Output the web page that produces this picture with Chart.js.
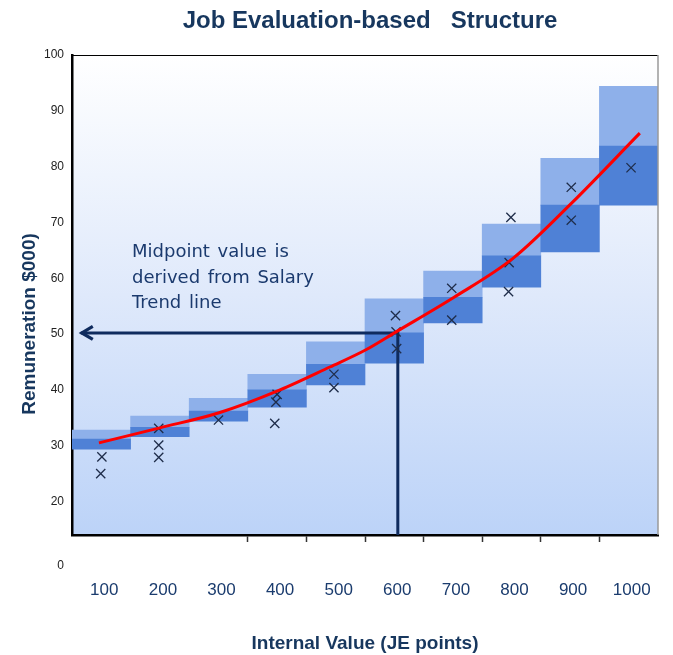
<!DOCTYPE html>
<html>
<head>
<meta charset="utf-8">
<title>Job Evaluation-based Structure</title>
<script src="https://cdn.jsdelivr.net/npm/chart.js@4.4.1/dist/chart.umd.min.js"></script>
<style>
  html, body { margin: 0; padding: 0; background: #fff; }
  #wrap { width: 673px; height: 655px; }
</style>
</head>
<body>
<div id="wrap"><canvas id="chart" width="673" height="655"></canvas></div>
<script>
// grades on the JE scale
const grades = ["100", "200", "300", "400", "500", "600", "700", "800", "900", "1000"];

// salary ranges per grade ($000)
const rangeMin = [29.4, 31.6, 34.4, 36.9, 40.9, 44.8, 52.0, 58.4, 64.7, 73.1];
const rangeMid = [31.2, 33.3, 36.2, 40.0, 44.6, 50.2, 56.6, 64.0, 73.1, 83.7];
const rangeMax = [32.8, 35.3, 38.5, 42.8, 48.6, 56.3, 61.3, 69.7, 81.5, 94.4];

// individual jobs (the X marks)
const jobPoints = [101, 99, 198, 198, 198, 300, 400, 398, 396, 497, 497, 602, 603, 604, 698, 698, 799, 796, 795, 902, 902, 1004];
const jobPay = [28.0, 25.0, 33.1, 30.1, 27.9, 34.6, 39.2, 37.8, 34.0, 42.8, 40.4, 53.3, 50.4, 47.4, 58.2, 52.5, 70.9, 62.8, 57.6, 76.3, 70.4, 79.8];

// salary trend line
const trendPoints = [96, 200, 301, 405, 490, 550, 603, 702, 803, 903, 1019];
const trendPay = [30.5, 33.2, 35.9, 40.0, 44.1, 47.1, 50.4, 56.6, 63.6, 73.5, 86.0];

// midpoint read-off arrow
const arrowPoints = [606, 606, 65];
const arrowPay = [14, 50.2, 50.2];

const yTicks = [20, 30, 40, 50, 60, 70, 80, 90, 100];
const yFloorLabel = "0";
const noteLines = ["Midpoint value is", "derived from Salary", "Trend line"];

const NAVY = "#17375e";
const SANS = '"Liberation Sans", Arial, sans-serif';

const backdrop = {
  id: "backdrop",
  beforeDraw(chart) {
    const { ctx, chartArea: a } = chart;
    const g = ctx.createLinearGradient(0, a.top, 0, a.bottom);
    g.addColorStop(0, "#ffffff");
    g.addColorStop(0.5, "#dfe9fb");
    g.addColorStop(1, "#bcd3f8");
    ctx.save();
    ctx.fillStyle = g;
    ctx.fillRect(a.left, a.top, a.right - a.left, a.bottom - a.top);
    ctx.restore();
  },
};

const decor = {
  id: "decor",
  afterDatasetsDraw(chart) {
    const { ctx } = chart;
    // arrow head at the end of the read-off line
    const pts = chart.getDatasetMeta(2).data;
    const tip = pts[pts.length - 1];
    ctx.save();
    ctx.strokeStyle = "#0f2b5e";
    ctx.lineWidth = 3.2;
    ctx.lineJoin = "miter";
    ctx.beginPath();
    ctx.moveTo(tip.x + 12, tip.y - 6.5);
    ctx.lineTo(tip.x + 1, tip.y);
    ctx.lineTo(tip.x + 12, tip.y + 6.5);
    ctx.stroke();

    ctx.fillStyle = "#1b3a6e";
    ctx.font = '18px "DejaVu Sans", Verdana, sans-serif';
    ctx.wordSpacing = "2px";
    ctx.textAlign = "left";
    ctx.textBaseline = "alphabetic";
    noteLines.forEach((line, i) => {
      ctx.fillText(line, 132, 257 + i * 25.5);
    });
    ctx.restore();
  },
  afterDraw(chart) {
    const { ctx, chartArea: a } = chart;
    ctx.save();
    // frame on top and right
    ctx.strokeStyle = "#000";
    ctx.lineWidth = 1;
    ctx.beginPath();
    ctx.moveTo(a.left, a.top + 0.5);
    ctx.lineTo(a.right, a.top + 0.5);
    ctx.stroke();
    ctx.strokeStyle = "#9a9a9a";
    ctx.lineWidth = 1.5;
    ctx.beginPath();
    ctx.moveTo(a.right, a.top);
    ctx.lineTo(a.right, a.bottom);
    ctx.stroke();

    // chart title
    ctx.fillStyle = NAVY;
    ctx.font = "bold 24px " + SANS;
    ctx.textAlign = "center";
    ctx.textBaseline = "middle";
    ctx.fillText("Job Evaluation-based   Structure", 370, 21);

    // "0" label below the axis
    ctx.fillStyle = "#222";
    ctx.font = "12px " + SANS;
    ctx.textAlign = "right";
    ctx.fillText(yFloorLabel, a.left - 8, a.bottom + 31);

    // y axis title
    ctx.translate(30, 324);
    ctx.rotate(-Math.PI / 2);
    ctx.fillStyle = NAVY;
    ctx.font = "bold 19px " + SANS;
    ctx.textAlign = "center";
    ctx.fillText("Remuneration $000)", 0, 0);
    ctx.restore();
  },
};

new Chart(document.getElementById("chart"), {
  type: "bar",
  data: {
    labels: grades,
    datasets: [
      {
        label: "Min to mid",
        data: rangeMin.map((lo, i) => [lo, rangeMid[i]]),
        backgroundColor: "#4f81d6",
        grouped: false,
        barPercentage: 1,
        categoryPercentage: 1,
        order: 5,
      },
      {
        label: "Mid to max",
        data: rangeMid.map((mid, i) => [mid, rangeMax[i]]),
        backgroundColor: "#8eb0ea",
        grouped: false,
        barPercentage: 1,
        categoryPercentage: 1,
        order: 5,
      },
      {
        type: "line",
        label: "Midpoint",
        xAxisID: "xl",
        data: arrowPoints.map((x, i) => ({ x, y: arrowPay[i] })),
        borderColor: "#0f2b5e",
        borderWidth: 3,
        pointRadius: 0,
        tension: 0,
        order: 3,
      },
      {
        type: "scatter",
        label: "Jobs",
        xAxisID: "xl",
        data: jobPoints.map((x, i) => ({ x, y: jobPay[i] })),
        pointStyle: "crossRot",
        pointRadius: 6.5,
        borderColor: "#1f2d4a",
        borderWidth: 1.3,
        order: 2,
      },
      {
        type: "line",
        label: "Salary trend",
        xAxisID: "xl",
        data: trendPoints.map((x, i) => ({ x, y: trendPay[i] })),
        borderColor: "#ff0000",
        borderWidth: 3,
        pointRadius: 0,
        cubicInterpolationMode: "monotone",
        order: 1,
      },
    ],
  },
  options: {
    responsive: false,
    animation: false,
    layout: { padding: { left: 0, right: 15, top: 55, bottom: 0 } },
    plugins: {
      legend: { display: false },
      tooltip: { enabled: false },
      title: { display: false },
    },
    scales: {
      x: {
        type: "category",
        offset: true,
        grid: {
          display: true,
          offset: true,
          drawOnChartArea: false,
          drawTicks: true,
          tickLength: 7,
          tickWidth: 1.5,
          tickColor: (ctx) => (ctx.index >= 3 ? "#333" : "rgba(0,0,0,0)"),
        },
        border: { display: true, color: "#000", width: 2.5 },
        ticks: {
          color: "#1b3c6e",
          font: { family: SANS, size: 17 },
          padding: 38,
          labelOffset: 3,
          maxRotation: 0,
          autoSkip: false,
        },
        title: {
          display: true,
          text: "Internal Value (JE points)",
          color: NAVY,
          font: { family: SANS, size: 19, weight: "bold" },
          padding: { top: 0, bottom: 0 },
        },
        afterFit: (s) => {
          s.height = 120;
          s.paddingLeft = 0;
          s.paddingRight = 0;
        },
      },
      xl: {
        type: "linear",
        display: false,
        offset: false,
        grid: { offset: false },
        min: 50,
        max: 1050,
      },
      y: {
        type: "linear",
        min: 14,
        max: 100,
        afterBuildTicks: (s) => { s.ticks = yTicks.map((v) => ({ value: v })); },
        grid: { display: false, drawTicks: false },
        border: { display: true, color: "#000", width: 2.5 },
        ticks: {
          color: "#222",
          font: { family: SANS, size: 12 },
          padding: 8,
        },
        afterFit: (s) => {
          s.width = 72;
          s.paddingTop = 0;
          s.paddingBottom = 0;
        },
      },
    },
  },
  plugins: [backdrop, decor],
});
</script>
</body>
</html>
